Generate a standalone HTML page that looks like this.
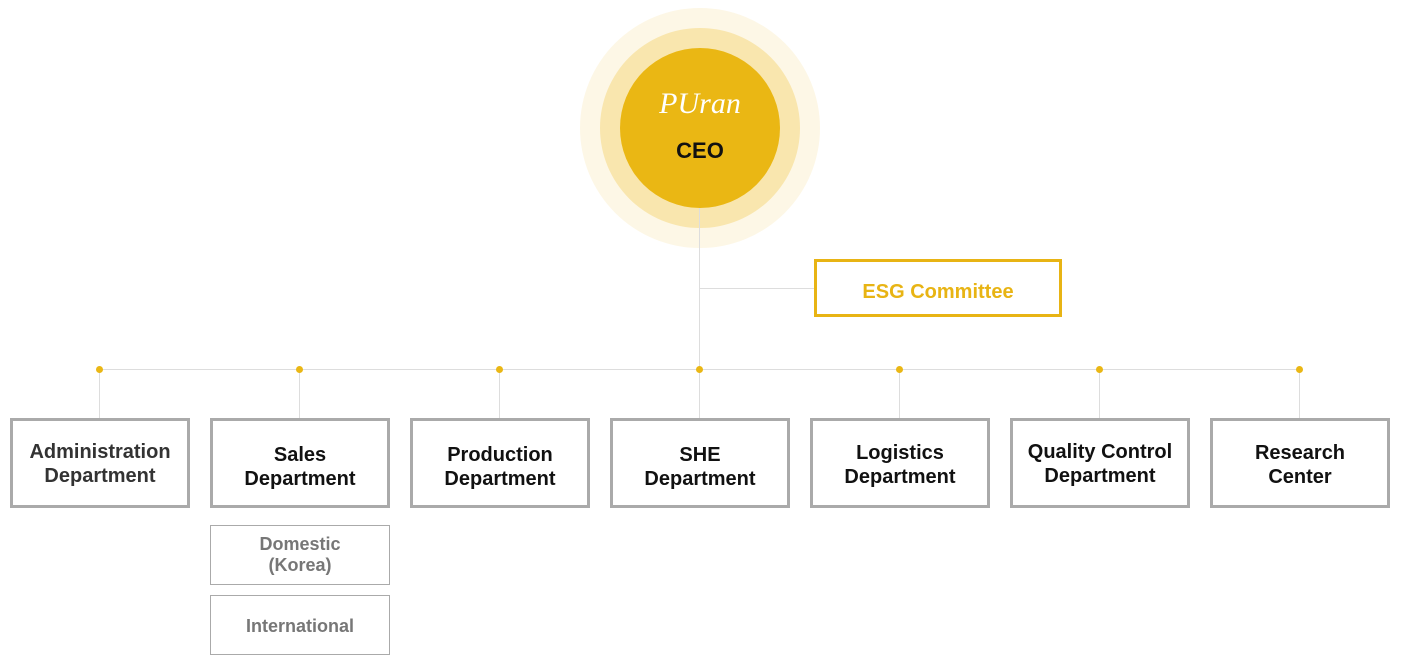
<!DOCTYPE html>
<html><head><meta charset="utf-8"><style>
body{margin:0;width:1401px;height:672px;background:#fff;position:relative;overflow:hidden;font-family:"Liberation Sans",sans-serif}
.a{position:absolute}
.c{border-radius:50%}
.box{position:absolute;box-sizing:border-box;width:180px;height:90px;top:418px;border:3px solid #aaa;display:flex;align-items:center;justify-content:center;text-align:center;font-weight:bold;font-size:20px;line-height:24px;color:#111;padding-top:8px}
.sub{position:absolute;box-sizing:border-box;left:210px;width:180px;height:60px;border:1px solid #aaa;display:flex;align-items:center;justify-content:center;text-align:center;font-weight:bold;font-size:18px;line-height:21px;color:#777}
.l{position:absolute;background:#ddd}
.d{position:absolute;width:7px;height:7px;border-radius:50%;background:#eab714;top:366px}
</style></head><body>
<div class="a c" style="left:580px;top:8px;width:240px;height:240px;background:#fdf7e6"></div>
<div class="a c" style="left:600px;top:28px;width:200px;height:200px;background:#f9e6ae"></div>
<div class="a c" style="left:620px;top:48px;width:160px;height:160px;background:#eab714"></div>
<div class="a" style="left:620px;top:87px;width:160px;text-align:center;color:#fff;font-family:'Liberation Serif',serif;font-style:italic;font-size:30px">PUran</div>
<div class="a" style="left:620px;top:138px;width:160px;text-align:center;color:#111;font-weight:bold;font-size:22px">CEO</div>
<div class="l" style="left:699px;top:208px;width:1px;height:210px"></div>
<div class="l" style="left:700px;top:288px;width:114px;height:1px"></div>
<div class="a" style="left:814px;top:259px;width:248px;height:58px;box-sizing:border-box;border:3px solid #e8b414;display:flex;align-items:center;justify-content:center;color:#e8b414;font-weight:bold;font-size:20px;padding-top:8px">ESG Committee</div>
<div class="l" style="left:99px;top:369px;width:1200px;height:1px"></div>
<div class="l" style="left:99px;top:369px;width:1px;height:49px"></div>
<div class="l" style="left:299px;top:369px;width:1px;height:49px"></div>
<div class="l" style="left:499px;top:369px;width:1px;height:49px"></div>
<div class="l" style="left:899px;top:369px;width:1px;height:49px"></div>
<div class="l" style="left:1099px;top:369px;width:1px;height:49px"></div>
<div class="l" style="left:1299px;top:369px;width:1px;height:49px"></div>
<div class="d" style="left:96px"></div><div class="d" style="left:296px"></div><div class="d" style="left:496px"></div><div class="d" style="left:696px"></div><div class="d" style="left:896px"></div><div class="d" style="left:1096px"></div><div class="d" style="left:1296px"></div>
<div class="box" style="left:10px;color:#333;padding-top:2px">Administration<br>Department</div>
<div class="box" style="left:210px">Sales<br>Department</div>
<div class="box" style="left:410px">Production<br>Department</div>
<div class="box" style="left:610px">SHE<br>Department</div>
<div class="box" style="left:810px;padding-top:4px">Logistics<br>Department</div>
<div class="box" style="left:1010px;padding-top:2px">Quality Control<br>Department</div>
<div class="box" style="left:1210px;padding-top:4px">Research<br>Center</div>
<div class="sub" style="top:525px">Domestic<br>(Korea)</div>
<div class="sub" style="top:595px;padding-top:3px">International</div>
</body></html>
